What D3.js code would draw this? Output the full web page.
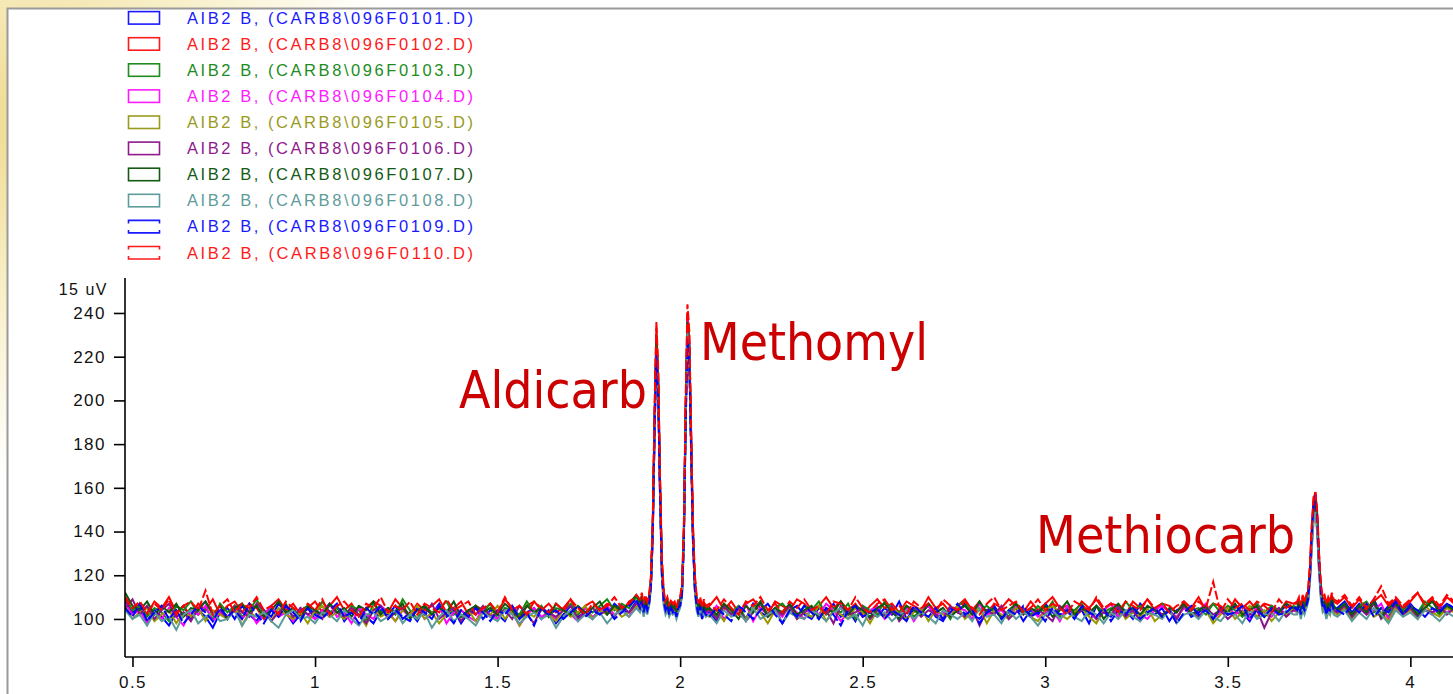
<!DOCTYPE html>
<html>
<head>
<meta charset="utf-8">
<script src="https://cdn.jsdelivr.net/npm/d3@7"></script>
<style>
html,body{margin:0;padding:0;background:#fff;overflow:hidden;}
svg{display:block;}
</style>
</head>
<body>
<svg id="chart" width="1453" height="694"></svg>
<script>
// ---------- DATA ----------
// retention-time sampling grid of each stretch (min)
const segStart = [0.48, 1.89, 2.08, 3.69, 3.80];
const segStep  = [0.02, 0.005, 0.02, 0.005, 0.02];

const runFiles = ["CARB8\\096F0101.D","CARB8\\096F0102.D","CARB8\\096F0103.D","CARB8\\096F0104.D","CARB8\\096F0105.D",
                  "CARB8\\096F0106.D","CARB8\\096F0107.D","CARB8\\096F0108.D","CARB8\\096F0109.D","CARB8\\096F0110.D"];
const runColors = ["#0000ff","#ff0000","#138a13","#ff00ff","#999900","#8b148b","#0e560e","#5a9a9a","#0000ff","#ff0000"];
const legendColors = ["#1a1aff","#ff1a1a","#1e8c1e","#ff1aff","#9a9a1e","#8e1a8e","#145a14","#5f9c9c","#1a1aff","#ff1a1a"];
const runDashed = [false,false,false,false,false,false,false,false,true,true];

const yMajorTicks = [100,120,140,160,180,200,220,240];
const xMajorTicks = [0.5,1,1.5,2,2.5,3,3.5,4];
const xTickLabels = ["0.5","1","1.5","2","2.5","3","3.5","4"];
const unitLabel = "15 uV";

const peakNames = ["Aldicarb","Methomyl","Methiocarb"];

// signal (uV) per run, per stretch
const run0101 = [
[108,103,105,99,104,101,97,103,106,100,104,101,96,103,105,100,106,102,99,104,101,107,103,98,102,105,100,104,101,106,99,103,105,101,98,104,102,106,100,103,99,105,102,107,101,104,98,103,105,100,104,102,99,106,101,103,105,100,104,98,102,106,101,103,100,105,102,107,104,103,108],
[106,109,104,108,105,108,116,140,188,226,205,158,122,109,105,107,103,106,104,105,103,106,107,112,135,190,232,222,180,138,116,108,103,107,101,105,102],
[103,99,106,102,105,100,107,103,101,105,98,104,106,102,100,105,103,107,101,104,99,106,103,101,105,102,108,100,104,103,106,101,99,105,103,107,102,100,104,106,101,103,105,99,104,102,107,103,100,105,102,104,98,106,103,101,105,104,100,107,103,102,105,99,104,106,101,103,105,100,104,102,106,103,99,105,101,104,103,106,104],
[104,106,103,107,105,107,110,121,139,152,156,146,127,113,106,107,103,106,104,108,105],
[105,108,103,107,104,109,102,106,108,104,107,103,106,109,104,107,105]];
const run0102 = [
[109,104,107,102,108,105,110,103,106,101,107,104,109,102,106,108,103,107,105,100,106,109,104,107,102,105,108,103,106,110,104,107,101,105,108,106,103,109,105,102,107,104,106,109,103,105,108,102,106,104,107,103,109,105,101,106,108,104,107,103,105,109,102,106,108,104,107,105,103,108,110],
[108,111,106,110,107,110,118,144,194,233,211,163,126,111,107,109,105,108,106,107,104,108,109,115,139,197,240,229,186,142,119,110,106,109,104,108,105],
[106,110,104,108,103,107,109,105,102,108,106,104,109,107,103,106,110,105,108,104,107,102,106,109,105,107,103,108,106,104,110,105,107,103,106,109,104,108,102,107,105,109,106,103,108,104,107,110,105,106,103,108,105,109,104,107,106,102,108,105,109,104,107,106,103,108,105,110,104,107,106,103,109,105,108,104,107,106,103,108,107],
[107,109,105,110,107,110,113,124,142,155,158,148,129,115,109,110,106,109,107,111,108],
[107,110,105,109,104,108,111,106,109,105,108,112,106,109,105,110,107]];
const run0103 = [
[110,104,106,101,105,103,99,106,104,108,102,105,100,107,103,106,101,104,109,102,105,103,107,100,104,106,102,108,103,105,101,106,104,99,107,103,105,102,109,104,100,106,103,105,108,102,104,101,106,103,107,100,105,104,102,108,103,106,101,105,104,107,102,105,103,106,109,104,107,105,110],
[107,110,105,109,104,109,117,142,190,228,207,160,124,110,106,108,104,107,103,106,105,107,108,113,137,193,234,224,182,140,117,109,104,108,103,106,104],
[105,101,107,103,106,100,104,108,102,105,107,103,101,106,104,108,102,105,103,107,100,106,104,102,108,105,103,106,101,104,107,103,105,100,106,108,102,104,106,103,105,101,107,104,102,106,103,108,100,105,104,107,102,106,103,105,101,108,104,106,102,105,107,103,100,106,104,105,102,107,103,106,104,101,105,107,103,106,104,102,106],
[105,108,104,107,106,108,111,121,137,149,153,143,125,112,107,108,104,107,105,109,106],
[104,107,102,106,108,103,105,101,107,104,106,103,108,105,102,106,104]];
const run0104 = [
[107,102,104,98,103,100,105,101,97,104,102,106,99,103,101,105,100,104,98,102,106,101,103,99,105,102,100,104,107,101,103,98,105,102,100,106,103,99,104,101,105,100,102,106,98,103,104,101,99,105,102,100,104,103,97,102,105,101,103,100,104,102,99,105,101,103,106,102,104,101,107],
[105,108,103,107,104,107,115,138,185,222,203,157,121,108,104,106,102,105,104,104,101,105,106,112,136,194,238,226,183,139,116,107,102,106,100,104,103],
[102,106,100,104,103,107,99,105,102,104,101,106,103,100,105,102,107,104,99,103,105,101,104,106,100,103,102,105,99,104,106,102,103,101,105,104,100,107,102,103,104,100,106,102,105,101,103,104,99,106,102,105,103,100,104,107,101,103,105,102,100,104,106,103,101,105,102,104,107,100,103,105,102,104,100,106,103,101,105,102,104],
[103,106,102,105,104,106,109,119,135,148,152,142,124,111,105,106,102,105,103,107,104],
[103,106,101,105,102,104,107,100,105,103,106,101,104,102,106,103,105]];
const run0105 = [
[106,100,103,105,99,102,104,98,103,101,105,99,104,102,100,106,97,103,101,104,99,105,102,100,103,98,104,106,101,103,100,104,102,97,105,101,103,99,104,102,106,100,103,98,102,105,101,104,99,103,102,106,100,104,97,103,101,105,102,99,104,101,103,106,100,104,102,105,101,103,106],
[104,107,102,106,103,107,115,139,187,225,204,157,121,108,104,105,102,104,103,104,101,104,106,111,134,190,233,222,180,137,115,106,102,106,101,104,102],
[101,104,99,105,102,100,106,103,98,104,102,105,100,103,101,106,99,104,102,100,105,103,98,104,101,106,102,100,103,105,99,104,102,101,106,100,103,105,98,104,102,100,105,103,101,99,104,106,102,100,103,105,101,98,104,102,106,100,103,101,105,99,102,104,100,106,103,101,104,98,102,105,100,103,106,101,104,99,103,102,105],
[103,105,101,106,103,105,108,118,133,146,150,140,122,110,104,105,101,104,102,106,103],
[102,105,100,104,107,101,103,99,105,102,104,100,106,103,101,105,103]];
const run0106 = [
[105,109,102,106,100,104,107,101,103,99,105,108,102,104,100,106,103,101,107,104,99,103,106,101,105,102,104,100,107,103,101,105,102,98,104,106,100,103,105,101,104,102,107,100,103,105,99,104,102,106,101,103,104,100,106,102,98,105,103,101,104,106,100,103,105,102,104,101,106,103,107],
[106,109,103,108,104,108,116,141,190,228,206,159,123,109,105,106,103,105,104,105,102,106,107,112,136,192,234,223,181,139,116,107,103,107,101,105,103],
[104,100,106,102,105,99,103,107,101,104,102,106,100,103,105,101,104,98,106,102,103,105,100,104,102,106,99,103,105,101,104,102,100,106,103,101,105,97,104,102,106,100,103,105,101,104,102,99,106,103,101,104,105,100,103,102,106,101,104,99,103,105,102,104,100,106,103,101,105,102,104,100,103,106,102,104,96,103,105,101,104],
[104,107,102,106,104,106,110,119,135,148,152,142,123,111,105,107,102,105,103,107,104],
[103,106,101,105,102,107,100,104,106,102,105,101,104,103,106,102,105]];
const run0107 = [
[112,106,104,108,102,106,103,107,101,105,104,108,102,106,100,105,107,103,106,101,104,108,103,105,100,106,104,102,107,103,105,101,106,104,108,102,105,103,107,100,104,106,102,105,103,108,101,104,106,103,105,102,107,104,100,106,103,105,101,107,104,102,106,103,105,108,102,106,104,107,111],
[108,110,105,109,106,110,118,143,192,230,209,161,125,111,107,108,104,107,105,106,103,107,109,114,138,194,236,226,183,141,118,109,105,108,103,107,104],
[105,102,107,104,100,106,103,108,101,105,103,107,102,104,106,100,105,103,108,102,106,104,101,105,107,103,100,106,104,102,107,103,105,101,104,106,102,108,103,105,100,104,107,102,105,103,106,101,104,108,102,105,103,106,100,104,107,103,105,102,106,104,101,105,103,107,102,104,106,100,105,103,107,102,104,106,101,105,103,107,105],
[105,108,104,108,105,108,111,121,138,150,154,144,125,113,107,108,104,107,106,109,106],
[104,107,102,106,103,108,101,105,107,103,106,102,105,108,103,106,104]];
const run0108 = [
[104,100,102,97,103,99,101,95,102,104,98,101,103,99,100,104,97,102,101,103,99,96,102,104,100,101,98,103,102,99,104,100,97,102,103,99,101,104,98,102,100,103,96,101,104,99,102,100,97,103,101,99,104,102,98,101,103,100,102,96,101,104,99,102,100,103,98,102,104,101,105],
[103,106,101,105,102,106,114,138,186,224,202,155,119,106,102,104,101,103,102,103,100,103,105,110,133,188,231,220,178,136,113,104,101,105,100,103,101],
[102,98,104,101,103,99,105,100,102,104,98,103,101,100,104,102,99,103,105,100,102,97,104,101,103,99,102,104,100,103,101,98,104,102,100,103,99,105,101,102,98,104,100,103,101,97,102,104,100,103,101,99,104,102,98,103,100,104,101,99,103,102,100,104,98,102,103,100,104,101,99,103,102,98,104,100,102,103,99,104,102],
[102,105,100,104,102,105,108,117,132,145,149,139,121,109,103,104,100,103,102,105,102],
[101,104,99,103,100,105,102,98,104,101,103,100,104,102,99,103,101]];
const run0109 = [
[105,101,107,99,103,106,100,104,98,102,106,103,99,105,101,104,100,107,102,98,104,101,106,103,99,105,102,100,104,107,101,103,98,105,102,106,100,104,101,99,105,103,100,106,102,98,104,101,105,103,99,104,102,106,100,103,97,105,102,104,100,103,106,101,104,102,105,100,103,106,109],
[105,108,103,107,104,107,115,139,186,222,201,156,120,108,104,106,102,105,103,104,101,105,106,111,134,187,228,218,177,136,114,106,102,106,100,104,102],
[101,105,102,99,106,103,100,104,107,102,98,104,101,106,103,100,105,102,97,104,106,101,103,105,100,104,102,99,106,103,101,105,100,103,107,102,104,98,103,105,100,104,102,106,101,103,99,105,102,104,100,106,103,101,105,99,104,102,106,100,103,105,101,104,98,103,106,102,104,100,105,102,103,106,100,104,101,105,102,103,106],
[104,106,102,106,104,106,109,120,139,153,157,146,126,112,105,106,102,105,104,107,104],
[104,102,106,103,107,101,105,103,108,102,106,104,101,105,103,107,105]];
const run0110 = [
[110,105,108,103,107,104,109,102,106,108,104,113,102,106,109,103,107,105,110,104,106,102,108,105,103,107,104,109,102,106,108,104,101,107,105,110,103,106,104,108,102,107,105,103,109,104,106,108,102,105,107,103,110,104,106,102,108,105,103,107,104,109,105,102,107,104,106,110,105,107,111],
[109,112,107,111,108,111,120,146,197,236,214,165,128,113,108,110,106,109,107,108,105,109,110,116,141,200,244,232,188,144,121,111,107,110,105,109,106],
[107,104,109,105,102,108,106,110,104,107,103,108,105,109,104,106,102,108,107,104,110,105,103,107,109,104,106,102,108,105,107,103,109,106,104,108,105,102,107,110,104,106,108,103,105,109,104,107,105,102,108,106,104,110,105,107,103,108,106,104,109,105,107,103,106,108,104,108,105,117,103,109,105,107,104,108,106,103,109,105,107],
[108,110,106,111,108,111,114,125,143,156,158,149,130,116,110,111,107,110,108,112,109],
[108,111,106,110,105,109,115,107,110,106,109,112,107,110,106,111,108]];

const runs = [run0101,run0102,run0103,run0104,run0105,run0106,run0107,run0108,run0109,run0110];

// ---------- DRAW ----------
const W = 1453, H = 694;
const svg = d3.select("#chart");

// faded wallpaper outside the window frame
const defs = svg.append("defs");
const rg = defs.append("radialGradient").attr("id","wall")
  .attr("gradientUnits","userSpaceOnUse").attr("cx",40).attr("cy",120).attr("r",360);
rg.append("stop").attr("offset",0).attr("stop-color","#efd98c");
rg.append("stop").attr("offset",0.45).attr("stop-color","#f7eec4");
rg.append("stop").attr("offset",1).attr("stop-color","#ffffff");
svg.append("rect").attr("width",W).attr("height",H).attr("fill","url(#wall)");
svg.append("rect").attr("x",8).attr("y",9).attr("width",W-8).attr("height",H-9).attr("fill","#ffffff");
svg.append("path").attr("d",`M7.5,${H} V8.5 H${W}`).attr("fill","none")
  .attr("stroke","#9a9a9a").attr("stroke-width",2);

const plot = {left:125, right:1453, top:278, bottom:657};
const x = d3.scaleLinear().domain([0.4795, 4.1168]).range([plot.left, plot.right]);
const y = d3.scaleLinear().domain([82.6, 256]).range([plot.bottom, plot.top]);

defs.append("clipPath").attr("id","clip").append("rect")
  .attr("x",plot.left).attr("y",plot.top).attr("width",plot.right-plot.left).attr("height",plot.bottom-plot.top);

// traces
const line = d3.line().x(d=>x(d[0])).y(d=>y(d[1]));
const traces = svg.append("g").attr("clip-path","url(#clip)");
runs.forEach((run,r)=>{
  const pts = run.flatMap((seg,k)=>seg.map((v,i)=>[segStart[k]+i*segStep[k], v]));
  traces.append("path").datum(pts).attr("d",line)
    .attr("fill","none").attr("stroke",runColors[r]).attr("stroke-width",2)
    .attr("stroke-linejoin","miter")
    .attr("stroke-dasharray", runDashed[r] ? "9,3" : null);
});

// axes
const axisFont = "'Liberation Sans', Arial, sans-serif";
const yMinor = d3.range(85, 256, 5).filter(v=>!yMajorTicks.includes(v));
const gy = svg.append("g").attr("transform",`translate(${plot.left},0)`);
gy.call(d3.axisLeft(y).tickValues(yMinor).tickSize(6).tickFormat(""));
gy.call(d3.axisLeft(y).tickValues(yMajorTicks).tickSize(11).tickPadding(8));
gy.select(".domain").remove();
gy.append("line").attr("x1",0).attr("x2",0).attr("y1",plot.top).attr("y2",plot.bottom)
  .attr("stroke","#000").attr("stroke-width",1.6);

const xMinor = d3.range(5, 42, 1).map(v=>v/10).filter(v=>!xMajorTicks.includes(v));
const gx = svg.append("g").attr("transform",`translate(0,${plot.bottom})`);
gx.call(d3.axisBottom(x).tickValues(xMinor).tickSize(6).tickFormat(""));
gx.call(d3.axisBottom(x).tickValues(xMajorTicks).tickSize(10).tickPadding(9)
  .tickFormat((d,i)=>xTickLabels[i]));
gx.select(".domain").remove();
gx.append("line").attr("x1",plot.left).attr("x2",plot.right).attr("y1",0).attr("y2",0)
  .attr("stroke","#000").attr("stroke-width",1.6);

svg.selectAll(".tick line").attr("stroke","#000").attr("stroke-width",1.6);
svg.selectAll(".tick text").attr("font-family",axisFont).attr("font-size",17)
  .attr("fill","#111").style("letter-spacing","1.5px");

svg.append("text").attr("x",108).attr("y",295).attr("text-anchor","end")
  .attr("font-family",axisFont).attr("font-size",16).attr("fill","#111")
  .style("letter-spacing","1.5px").text(unitLabel);

// legend
const lg = svg.append("g");
runFiles.forEach((f,i)=>{
  const cy = 17.6 + 26.1*i;
  if(!runDashed[i]){
    lg.append("rect").attr("x",128.5).attr("y",cy-6).attr("width",31).attr("height",12.5)
      .attr("fill","none").attr("stroke",legendColors[i]).attr("stroke-width",1.6);
  } else {
    lg.append("path").attr("d",`M128.5,${cy-3} V${cy-6} H159.5 V${cy-3} M128.5,${cy+3.5} V${cy+6.5} H159.5 V${cy+3.5}`)
      .attr("fill","none").attr("stroke",legendColors[i]).attr("stroke-width",1.6);
  }
  lg.append("text").attr("x",187).attr("y",cy+6).attr("font-family",axisFont)
    .attr("font-size",16.5).attr("fill",legendColors[i])
    .attr("textLength",286).attr("lengthAdjust","spacing")
    .text("AIB2 B, (" + f + ")");
});

// peak annotations
const annFont = "'DejaVu Sans', Verdana, sans-serif";
const annPos = [[459,408,188],[700,360,228],[1036,553,259]];
peakNames.forEach((n,i)=>{
  svg.append("text").attr("x",annPos[i][0]).attr("y",annPos[i][1])
    .attr("font-family",annFont).attr("font-size",52).attr("fill","#cc0000")
    .attr("textLength",annPos[i][2]).attr("lengthAdjust","spacingAndGlyphs")
    .text(n);
});
</script>
</body>
</html>
